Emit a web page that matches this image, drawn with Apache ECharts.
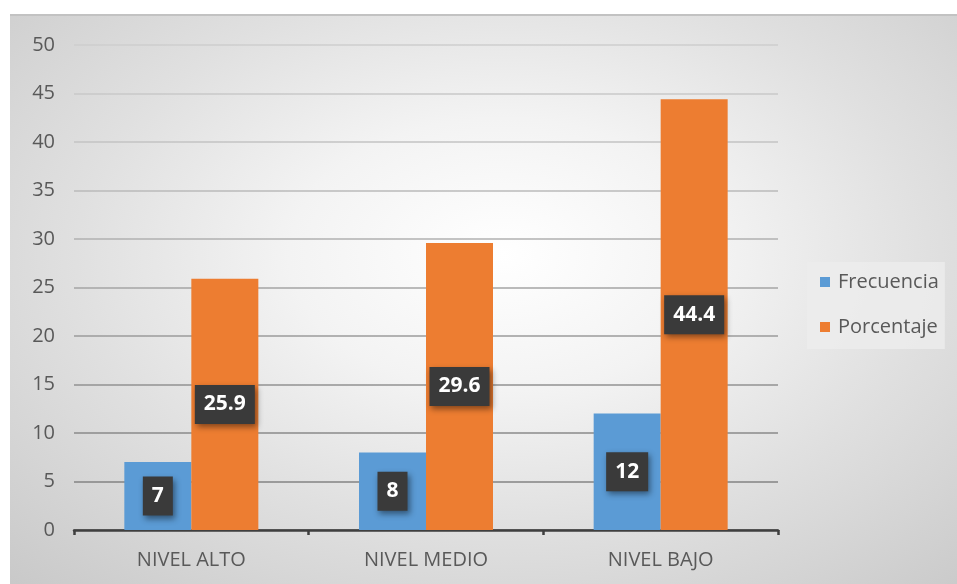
<!DOCTYPE html>
<html>
<head>
<meta charset="utf-8">
<script src="https://cdn.jsdelivr.net/npm/echarts@6/dist/echarts.min.js"></script>
<style>
  html, body { margin: 0; padding: 0; background: #ffffff; }
  #panel {
    position: absolute; left: 10px; top: 14px; width: 947px; height: 570px;
    background: radial-gradient(ellipse 75% 80% at 52% 42%, #ffffff 0%, #f3f3f3 30%, #e0e0e0 60%, #c9c9c9 100%);
    border-top: 2px solid #c2c2c2;
    box-sizing: border-box;
  }
  #chart { position: absolute; left: 0; top: 0; width: 957px; height: 584px; }
</style>
</head>
<body>
<div id="panel"></div>
<div id="chart"></div>
<script>
// Categories and values
const categories = ['NIVEL ALTO', 'NIVEL MEDIO', 'NIVEL BAJO'];
const frecuencia = [7, 8, 12];
const porcentaje = [25.9, 29.6, 44.4];
const yTicks = { min: 0, max: 50, step: 5 };

const font = '"Open Sans", "Noto Sans", sans-serif';
const textGrey = '#595959';

// Split lines get lighter toward the top of the plot
const gridColors = ['#7a7a7a', '#838383', '#8a8a8a', '#929292', '#9b9b9b', '#a5a5a5',
                    '#b0b0b0', '#bababa', '#c3c3c3', '#c9c9c9', '#cecece'];

const valueLabel = {
  show: true,
  position: 'inside',
  color: '#ffffff',
  fontFamily: font,
  fontWeight: 'bold',
  fontSize: 21,
  lineHeight: 22,
  backgroundColor: '#3a3a3a',
  padding: [9, 9, 8, 9],
  shadowColor: 'rgba(0,0,0,0.45)',
  shadowBlur: 6,
  shadowOffsetX: 2,
  shadowOffsetY: 3
};

const chart = echarts.init(document.getElementById('chart'), null, { renderer: 'canvas' });
chart.setOption({
  backgroundColor: 'transparent',
  animation: false,
  grid: { left: 74, right: 179, top: 45, bottom: 54, containLabel: false },
  legend: {
    orient: 'vertical',
    left: 807,
    top: 262,
    itemWidth: 10,
    itemHeight: 10,
    itemGap: 25,
    padding: [10, 6, 12, 13],
    backgroundColor: 'rgba(236,236,236,0.85)',
    icon: 'rect',
    textStyle: { fontFamily: font, fontSize: 20, color: textGrey, padding: [0, 0, 0, 3] },
    data: ['Frecuencia', 'Porcentaje']
  },
  xAxis: {
    type: 'category',
    data: categories,
    axisLine: { show: true, lineStyle: { color: '#3f3f3f', width: 2.5 } },
    axisTick: { show: true, alignWithLabel: false, length: 5, lineStyle: { color: '#3f3f3f', width: 2.5 } },
    axisLabel: { fontFamily: font, fontSize: 20, color: textGrey, margin: 20 }
  },
  yAxis: {
    type: 'value',
    min: yTicks.min,
    max: yTicks.max,
    interval: yTicks.step,
    axisLine: { show: false },
    axisTick: { show: false },
    axisLabel: { fontFamily: font, fontSize: 20, color: textGrey, margin: 19 },
    splitLine: { show: true, lineStyle: { color: gridColors, width: 1.5 } }
  },
  series: [
    {
      name: 'Frecuencia',
      type: 'bar',
      data: frecuencia,
      barWidth: 67,
      barGap: '0%',
      itemStyle: { color: '#5b9bd5' },
      label: valueLabel
    },
    {
      name: 'Porcentaje',
      type: 'bar',
      data: porcentaje,
      barWidth: 67,
      barGap: '0%',
      itemStyle: { color: '#ed7d31' },
      label: valueLabel
    }
  ]
});
</script>
</body>
</html>
